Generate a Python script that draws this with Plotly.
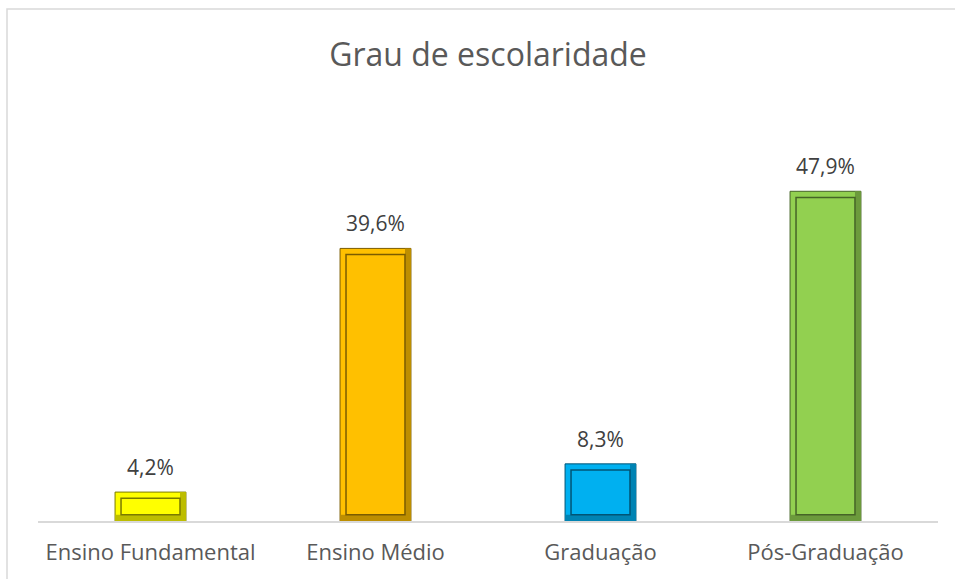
import plotly.graph_objects as go

categories = ["Ensino Fundamental", "Ensino Médio", "Graduação", "Pós-Graduação"]
values = [4.2, 39.6, 8.3, 47.9]
labels = ["4,2%", "39,6%", "8,3%", "47,9%"]
colors = ["#FFFF00", "#FFC000", "#00B0F0", "#92D050"]
mid = ["#BDBD00", "#BD8E00", "#0083B3", "#6C9A3C"]
dark = ["#7A7A00", "#7A5C00", "#005475", "#466427"]

W, H = 955, 579
ml, mr, mt, mb = 38, 17, 108, 58
inset = 0.9  # data units for bevel inset
bw, iw = 0.315, 0.262
FONT = "Open Sans, Liberation Sans, sans-serif"

fig = go.Figure()
# outer bar
fig.add_trace(go.Bar(
    x=categories, y=values, width=bw,
    marker=dict(color=colors, line=dict(color=dark, width=1)),
    hoverinfo="skip",
))
# right bevel strip
fig.add_trace(go.Bar(
    x=categories, y=values, width=(bw - iw) / 2, offset=iw / 2,
    marker=dict(color=mid, line=dict(width=0)), hoverinfo="skip",
))
# bottom bevel strip
fig.add_trace(go.Bar(
    x=categories, y=[inset] * len(values), width=bw,
    marker=dict(color=mid, line=dict(width=0)), hoverinfo="skip",
))
# inner face
fig.add_trace(go.Bar(
    x=categories, y=[v - 2 * inset for v in values], base=[inset] * len(values), width=iw,
    marker=dict(color=colors, line=dict(color=dark, width=1.5)),
    hoverinfo="skip",
))

annotations = [dict(x=c, y=v, text=t, showarrow=False, yanchor="bottom", yshift=9,
                    font=dict(family=FONT, size=21, color="#404040"))
               for c, v, t in zip(categories, values, labels)]

fig.update_layout(
    width=W, height=H, barmode="overlay", showlegend=False,
    margin=dict(l=ml, r=mr, t=mt, b=mb),
    paper_bgcolor="white", plot_bgcolor="white",
    title=dict(text="Grau de escolaridade", x=0.511, xanchor="center", y=0.905, yanchor="middle",
               font=dict(family=FONT, size=32, color="#595959")),
    xaxis=dict(showline=True, linecolor="#D9D9D9", linewidth=2, ticks="", ticklabelstandoff=11,
               tickfont=dict(family=FONT, size=22, color="#595959")),
    yaxis=dict(range=[0, 60], visible=False, showgrid=False),
    annotations=annotations,
    shapes=[dict(type="rect", xref="paper", yref="paper",
                 x0=(7 - ml) / (W - ml - mr), x1=(W + 10 - ml) / (W - ml - mr),
                 y0=-(H + 10 - (H - mb)) / (H - mt - mb), y1=(H - 9 - mb) / (H - mt - mb),
                 line=dict(color="#D9D9D9", width=1.5), layer="below")],
)
fig.write_html("out.html")
